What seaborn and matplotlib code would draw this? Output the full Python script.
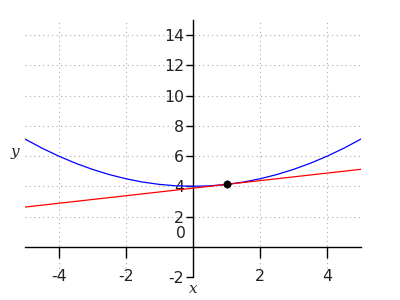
import matplotlib
matplotlib.use("Agg")
import matplotlib.pyplot as plt
import seaborn as sns
import pandas as pd

# Data
curve_x = [-5, -4.5, -4, -3.5, -3, -2.5, -2, -1.5, -1, -0.5, 0,
           0.5, 1, 1.5, 2, 2.5, 3, 3.5, 4, 4.5, 5]
curve_y = [7.125, 6.53, 6.0, 5.53, 5.125, 4.78, 4.5, 4.28, 4.125, 4.03, 4.0,
           4.03, 4.125, 4.28, 4.5, 4.78, 5.125, 5.53, 6.0, 6.53, 7.125]
tangent_x = [-5, 5]
tangent_y = [2.625, 5.125]
point_x = [1]
point_y = [4.125]
x_ticks = [-4, -2, 2, 4]
y_ticks = [-2, 2, 4, 6, 8, 10, 12, 14]

sns.set_style("white")
plt.rcParams['font.family'] = ['DejaVu Sans']

fig = plt.figure(figsize=(4, 3), dpi=100)
ax = fig.add_axes([0.0625, 0.0767, 0.84, 0.8566])

curve = pd.DataFrame({"x": curve_x, "y": curve_y})
tang = pd.DataFrame({"x": tangent_x, "y": tangent_y})
pt = pd.DataFrame({"x": point_x, "y": point_y})

sns.lineplot(data=curve, x="x", y="y", color="blue", linewidth=0.9, ax=ax, zorder=3)
sns.lineplot(data=tang, x="x", y="y", color="red", linewidth=0.9, ax=ax, zorder=3)
sns.scatterplot(data=pt, x="x", y="y", color="black", s=28, edgecolor="black", ax=ax, zorder=4)

ax.set_xlim(-5, 5)
ax.set_ylim(-2, 15)
ax.set_xticks(x_ticks)
ax.set_yticks(y_ticks)
ax.set_xticklabels([str(v) for v in x_ticks])
ax.set_yticklabels([str(v) for v in y_ticks])

ax.grid(True, linestyle=(0, (1, 3)), color="#aaaaaa", linewidth=0.8, zorder=0)
ax.set_axisbelow(True)

ax.spines['left'].set_position(('data', 0))
ax.spines['bottom'].set_position(('data', 0))
ax.spines['top'].set_visible(False)
ax.spines['right'].set_visible(False)
for s in ('left', 'bottom'):
    ax.spines[s].set_color('black')
    ax.spines[s].set_linewidth(1.0)

ax.tick_params(axis='y', direction='out', length=5, width=1, pad=1.5,
               labelsize=11.3, colors='black', labelcolor='#222222', left=True)
ax.tick_params(axis='x', direction='out', length=8, width=1, pad=8,
               labelsize=11.3, colors='black', labelcolor='#222222', bottom=True)

ax.set_xlabel("")
ax.set_ylabel("")

ax.annotate("0", xy=(0, 0), xycoords='data', xytext=(-12, 13),
            textcoords='offset pixels', ha='center', va='center',
            fontsize=11.3, color='#222222')

fig.text(193 / 400, 1 - 289 / 300, "x", family="DejaVu Serif", style="italic",
         fontsize=11, ha="center", va="center")
fig.text(15 / 400, 1 - 152 / 300, "y", family="DejaVu Serif", style="italic",
         fontsize=11, ha="center", va="center")

fig.savefig("out.png", dpi=100)
